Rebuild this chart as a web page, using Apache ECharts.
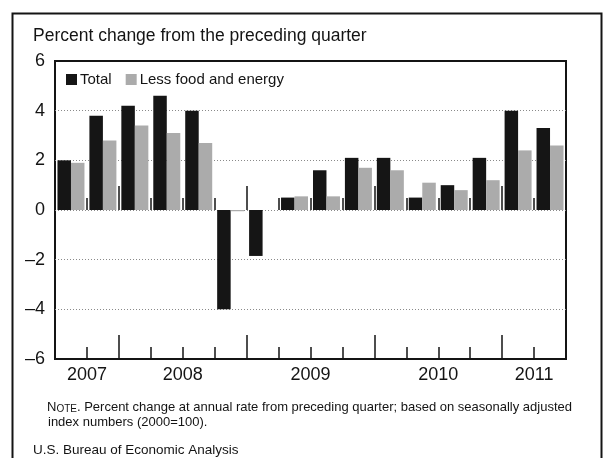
<!DOCTYPE html>
<html><head><meta charset="utf-8">
<script src="https://cdn.jsdelivr.net/npm/echarts@6/dist/echarts.min.js"></script>
<style>html,body{margin:0;padding:0;background:#fff}#c{width:603px;height:458px}</style>
</head><body><div id="c"></div>
<script>
const quarters = ['2007 Q3','2007 Q4','2008 Q1','2008 Q2','2008 Q3','2008 Q4','2009 Q1','2009 Q2','2009 Q3','2009 Q4','2010 Q1','2010 Q2','2010 Q3','2010 Q4','2011 Q1','2011 Q2'];
const total = [2.0, 3.8, 4.2, 4.6, 4.0, -4.0, -1.85, 0.5, 1.6, 2.1, 2.1, 0.5, 1.0, 2.1, 4.0, 3.3];
const lessFoodEnergy = [1.9, 2.8, 3.4, 3.1, 2.7, -0.05, 0, 0.55, 0.55, 1.7, 1.6, 1.1, 0.8, 1.2, 2.4, 2.6];
const seriesNames = ['Total', 'Less food and energy'];
const yMin = -6, yMax = 6, yStep = 2;
const titleText = 'Percent change from the preceding quarter';
const noteLead = ['N', 'OTE'];
const noteLine1 = '. Percent change at annual rate from preceding quarter; based on seasonally adjusted';
const noteLine2 = 'index numbers (2000=100).';
const sourceText = 'U.S. Bureau of Economic Analysis';

// year groupings derived from the quarter list
const years = [];
quarters.forEach((q, i) => {
  const y = q.slice(0, 4);
  let e = years.find(o => o.y === y);
  if (!e) { e = { y, first: i, last: i }; years.push(e); } else e.last = i;
});
const yearCenters = years.map(e => (e.first + e.last + 1) / 2);
const yearBounds = years.slice(1).map(e => e.first);

const FONT = '"Liberation Sans", Arial, Helvetica, sans-serif';
const INK = '#141414';
const GRID = { left: 55, right: 37, top: 61, bottom: 99 };
const tickStyle = { color: INK, width: 1.5 };

const chart = echarts.init(document.getElementById('c'), null, { renderer: 'canvas' });
chart.setOption({
  animation: false,
  backgroundColor: '#fff',
  title: {
    text: titleText, left: 33, top: 27, padding: 0,
    textStyle: { fontFamily: FONT, fontSize: 17.5, fontWeight: 'normal', color: INK }
  },
  legend: {
    left: 66, top: 72, padding: 0, itemWidth: 11, itemHeight: 11, itemGap: 14,
    icon: 'rect', data: seriesNames,
    textStyle: { fontFamily: FONT, fontSize: 15, color: INK, padding: [0, 0, 0, -2] }
  },
  grid: [
    Object.assign({ show: true, borderColor: INK, borderWidth: 2, backgroundColor: 'transparent', containLabel: false }, GRID),
    Object.assign({ show: false, containLabel: false }, GRID),
    Object.assign({ show: false, containLabel: false }, GRID)
  ],
  xAxis: [
    { // quarter categories, short ticks on the bottom frame
      type: 'category', gridIndex: 0, data: quarters, position: 'bottom',
      axisLine: { show: false, onZero: false },
      axisTick: { show: true, inside: true, length: 12, interval: 0, lineStyle: tickStyle },
      axisLabel: { show: false }, splitLine: { show: false }
    },
    { // year labels and tall year-boundary ticks
      type: 'value', gridIndex: 0, min: 0, max: quarters.length, position: 'bottom',
      axisLine: { show: false, onZero: false },
      axisTick: { show: true, inside: true, length: 24, customValues: yearBounds, lineStyle: tickStyle },
      axisLabel: {
        show: true, customValues: yearCenters, margin: 7,
        fontFamily: FONT, fontSize: 18, color: INK,
        formatter: v => { const i = yearCenters.indexOf(v); return i >= 0 ? years[i].y : ''; }
      },
      splitLine: { show: false }
    },
    { // short ticks on the zero line
      type: 'category', gridIndex: 1, data: quarters, position: 'bottom',
      axisLine: { show: false, onZero: true },
      axisTick: { show: true, inside: true, length: 12, interval: 0, lineStyle: tickStyle },
      axisLabel: { show: false }, splitLine: { show: false }
    },
    { // tall year ticks on the zero line
      type: 'value', gridIndex: 2, min: 0, max: quarters.length, position: 'bottom',
      axisLine: { show: false, onZero: true },
      axisTick: { show: true, inside: true, length: 24, customValues: yearBounds, lineStyle: tickStyle },
      axisLabel: { show: false }, splitLine: { show: false }
    }
  ],
  yAxis: [
    {
      type: 'value', gridIndex: 0, min: yMin, max: yMax, interval: yStep,
      axisLine: { show: false }, axisTick: { show: false },
      axisLabel: {
        margin: 10, fontFamily: FONT, fontSize: 18, color: INK,
        formatter: v => (v < 0 ? '\u2013' + Math.abs(v) : String(v))
      },
      splitLine: { show: true, showMinLine: false, showMaxLine: false, lineStyle: { color: '#8a8a8a', type: [1, 2], width: 1 } }
    },
    { type: 'value', gridIndex: 1, min: yMin, max: yMax, interval: yStep, show: false },
    { type: 'value', gridIndex: 2, min: yMin, max: yMax, interval: yStep, show: false }
  ],
  series: [
    {
      name: seriesNames[0], type: 'bar', xAxisIndex: 0, yAxisIndex: 0, data: total,
      barWidth: 13.5, barGap: '0%', itemStyle: { color: '#151515' }
    },
    {
      name: seriesNames[1], type: 'bar', xAxisIndex: 0, yAxisIndex: 0, data: lessFoodEnergy,
      barWidth: 13.5, barGap: '0%', itemStyle: { color: '#ababab' }
    }
  ],
  graphic: [
    {
      type: 'rect', left: 10, top: 11, z: 100, silent: true,
      shape: { width: 589, height: 470 },
      style: { fill: 'none', stroke: INK, lineWidth: 2 }
    },
    {
      type: 'text', left: 47, top: 401,
      style: {
        text: '{a|' + noteLead[0] + '}{b|' + noteLead[1] + '}{a|' + noteLine1 + '}',
        rich: {
          a: { fontFamily: FONT, fontSize: 13, fill: INK, color: INK },
          b: { fontFamily: FONT, fontSize: 10, fill: INK, color: INK, verticalAlign: 'bottom' }
        },
        fill: INK, font: '13px ' + FONT
      }
    },
    {
      type: 'text', left: 48, top: 416,
      style: { text: noteLine2, fill: INK, font: '13px ' + FONT }
    },
    {
      type: 'text', left: 33, top: 443,
      style: { text: sourceText, fill: INK, font: '13.5px ' + FONT }
    }
  ]
});
</script>
</body></html>
